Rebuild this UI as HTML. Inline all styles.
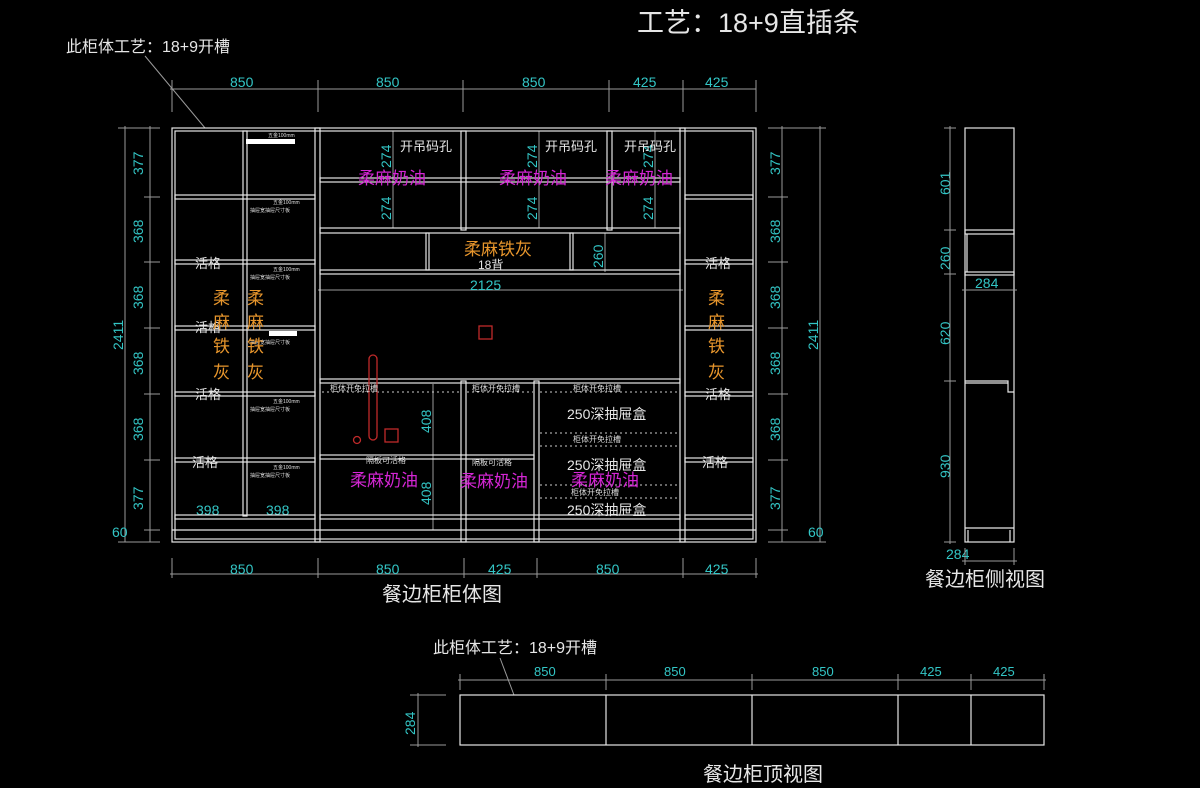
<!DOCTYPE html>
<html><head><meta charset="utf-8"><style>
body{margin:0;background:#000}
svg{display:block}
text{font-family:"Liberation Sans","Noto Sans CJK SC",sans-serif}
.w{stroke:#e6e6e6;stroke-width:1.2;fill:none}
.d{stroke:#9a9a9a;stroke-width:1;fill:none}
.c{fill:#33c6c6;font-size:14px}
.m{fill:#d526d5;font-size:17px}
.o{fill:#e8962c;font-size:17px}
.t{fill:#e6e6e6}
.s{fill:#ddd;font-size:5px}
</style></head><body>
<svg width="1200" height="788" viewBox="0 0 1200 788">
<rect width="1200" height="788" fill="#000"/>
<text x="637" y="32" class="t" font-size="27" font-family="Liberation Serif,Noto Serif CJK SC,serif">工艺：18+9直插条</text>
<text x="66" y="52" class="t" font-size="16">此柜体工艺：18+9开槽</text>
<line x1="145" y1="56" x2="205" y2="128" class="d"/>
<text x="382" y="601" class="t" font-size="20">餐边柜柜体图</text>
<text x="925" y="586" class="t" font-size="20">餐边柜侧视图</text>
<text x="703" y="781" class="t" font-size="20">餐边柜顶视图</text>
<text x="433" y="653" class="t" font-size="16">此柜体工艺：18+9开槽</text>
<line x1="500" y1="658" x2="514" y2="695" class="d"/>

<g class="d">
<line x1="170" y1="89" x2="756" y2="89"/>
<line x1="172" y1="80" x2="172" y2="112"/><line x1="318" y1="80" x2="318" y2="112"/><line x1="463" y1="80" x2="463" y2="112"/><line x1="609" y1="80" x2="609" y2="112"/><line x1="683" y1="80" x2="683" y2="112"/><line x1="756" y1="80" x2="756" y2="112"/>
<line x1="170" y1="574" x2="758" y2="574"/>
<line x1="172" y1="558" x2="172" y2="578"/><line x1="318" y1="558" x2="318" y2="578"/><line x1="464" y1="558" x2="464" y2="578"/><line x1="537" y1="558" x2="537" y2="578"/><line x1="683" y1="558" x2="683" y2="578"/><line x1="756" y1="558" x2="756" y2="578"/>
<line x1="125" y1="126" x2="125" y2="542"/><line x1="150" y1="126" x2="150" y2="542"/>
<line x1="118" y1="128" x2="160" y2="128"/><line x1="118" y1="542" x2="160" y2="542"/>
<line x1="144" y1="197" x2="160" y2="197"/><line x1="144" y1="262" x2="160" y2="262"/><line x1="144" y1="328" x2="160" y2="328"/><line x1="144" y1="394" x2="160" y2="394"/><line x1="144" y1="460" x2="160" y2="460"/><line x1="144" y1="530" x2="160" y2="530"/>
<line x1="782" y1="126" x2="782" y2="542"/><line x1="820" y1="126" x2="820" y2="542"/>
<line x1="768" y1="128" x2="826" y2="128"/><line x1="768" y1="542" x2="826" y2="542"/>
<line x1="768" y1="197" x2="788" y2="197"/><line x1="768" y1="262" x2="788" y2="262"/><line x1="768" y1="328" x2="788" y2="328"/><line x1="768" y1="394" x2="788" y2="394"/><line x1="768" y1="460" x2="788" y2="460"/><line x1="768" y1="530" x2="788" y2="530"/>
<line x1="318" y1="290" x2="683" y2="290"/>
<line x1="393" y1="131" x2="393" y2="228"/><line x1="539" y1="131" x2="539" y2="228"/><line x1="655" y1="131" x2="655" y2="228"/>
<line x1="605" y1="233" x2="605" y2="272"/>
<line x1="433" y1="384" x2="433" y2="530"/>
</g>
<g class="c">
<text x="230" y="87">850</text><text x="376" y="87">850</text><text x="522" y="87">850</text><text x="633" y="87">425</text><text x="705" y="87">425</text>
<text x="230" y="574">850</text><text x="376" y="574">850</text><text x="488" y="574">425</text><text x="596" y="574">850</text><text x="705" y="574">425</text>
<text x="470" y="290">2125</text>
<text x="196" y="515">398</text><text x="266" y="515">398</text>
<text x="112" y="537">60</text><text x="808" y="537">60</text>
<text x="975" y="288">284</text><text x="946" y="559">284</text>
<text x="534" y="676" font-size="13">850</text><text x="664" y="676" font-size="13">850</text><text x="812" y="676" font-size="13">850</text><text x="920" y="676" font-size="13">425</text><text x="993" y="676" font-size="13">425</text>
<g font-size="14">
<text transform="translate(143,175) rotate(-90)">377</text>
<text transform="translate(143,243) rotate(-90)">368</text>
<text transform="translate(143,309) rotate(-90)">368</text>
<text transform="translate(143,375) rotate(-90)">368</text>
<text transform="translate(143,441) rotate(-90)">368</text>
<text transform="translate(143,510) rotate(-90)">377</text>
<text transform="translate(123,350) rotate(-90)">2411</text>
<text transform="translate(780,175) rotate(-90)">377</text>
<text transform="translate(780,243) rotate(-90)">368</text>
<text transform="translate(780,309) rotate(-90)">368</text>
<text transform="translate(780,375) rotate(-90)">368</text>
<text transform="translate(780,441) rotate(-90)">368</text>
<text transform="translate(780,510) rotate(-90)">377</text>
<text transform="translate(818,350) rotate(-90)">2411</text>
<text transform="translate(391,168) rotate(-90)">274</text>
<text transform="translate(391,220) rotate(-90)">274</text>
<text transform="translate(537,168) rotate(-90)">274</text>
<text transform="translate(537,220) rotate(-90)">274</text>
<text transform="translate(653,168) rotate(-90)">274</text>
<text transform="translate(653,220) rotate(-90)">274</text>
<text transform="translate(603,268) rotate(-90)">260</text>
<text transform="translate(431,433) rotate(-90)">408</text>
<text transform="translate(431,505) rotate(-90)">408</text>
<text transform="translate(950,195) rotate(-90)">601</text>
<text transform="translate(950,270) rotate(-90)">260</text>
<text transform="translate(950,345) rotate(-90)">620</text>
<text transform="translate(950,478) rotate(-90)">930</text>
<text transform="translate(415,735) rotate(-90)">284</text>
</g></g>

<g class="w">
<rect x="172" y="128" width="584" height="414"/>
<rect x="175" y="131" width="578" height="408"/>
<line x1="172" y1="530" x2="756" y2="530"/>
<rect x="315" y="128" width="5" height="414"/>
<rect x="680" y="128" width="5" height="414"/>
<rect x="243" y="131" width="4" height="385"/>
<rect x="461" y="131" width="5" height="99"/>
<rect x="607" y="131" width="5" height="99"/>
<rect x="461" y="381" width="5" height="161"/>
<rect x="534" y="381" width="5" height="161"/>
<rect x="175" y="195" width="140" height="4"/><rect x="175" y="260" width="140" height="4"/><rect x="175" y="326" width="140" height="4"/><rect x="175" y="392" width="140" height="4"/><rect x="175" y="458" width="140" height="4"/><rect x="175" y="515" width="140" height="4"/>
<rect x="685" y="195" width="68" height="4"/><rect x="685" y="260" width="68" height="4"/><rect x="685" y="326" width="68" height="4"/><rect x="685" y="392" width="68" height="4"/><rect x="685" y="458" width="68" height="4"/><rect x="685" y="515" width="68" height="4"/>
<rect x="320" y="178" width="360" height="4"/>
<rect x="320" y="228" width="360" height="5"/>
<rect x="320" y="270" width="360" height="4"/>
<rect x="426" y="233" width="3" height="37"/>
<rect x="570" y="233" width="3" height="37"/>
<rect x="320" y="379" width="360" height="4"/>
<rect x="320" y="455" width="214" height="4"/>
<rect x="320" y="515" width="360" height="4"/>
</g>
<rect x="246" y="139" width="49" height="5" fill="#fff"/>
<rect x="269" y="331" width="28" height="5" fill="#fff"/>
<g stroke="#ccc" stroke-dasharray="2,3" fill="none">
<line x1="322" y1="392" x2="460" y2="392"/><line x1="467" y1="392" x2="533" y2="392"/><line x1="540" y1="392" x2="680" y2="392"/>
<line x1="540" y1="433" x2="680" y2="433"/><line x1="540" y1="446" x2="680" y2="446"/>
<line x1="540" y1="485" x2="680" y2="485"/><line x1="540" y1="498" x2="680" y2="498"/>
</g>
<g stroke="#c02a2a" fill="none" stroke-width="1.3">
<rect x="369" y="355" width="8" height="85" rx="4"/>
<circle cx="357" cy="440" r="3.5"/>
<rect x="385" y="429" width="13" height="13"/>
<rect x="479" y="326" width="13" height="13"/>
</g>
<g class="t" font-size="13">
<text x="400" y="151">开吊码孔</text><text x="545" y="151">开吊码孔</text><text x="624" y="151">开吊码孔</text>
<text x="478" y="269" font-size="12">18背</text>
<text x="195" y="268">活格</text><text x="195" y="332">活格</text><text x="195" y="399">活格</text><text x="192" y="467">活格</text>
<text x="705" y="268">活格</text><text x="705" y="399">活格</text><text x="702" y="467">活格</text>
<text x="567" y="419" font-size="14">250深抽屉盒</text><text x="567" y="470" font-size="14">250深抽屉盒</text><text x="567" y="515" font-size="14">250深抽屉盒</text>
</g>
<g class="s">
<text x="268" y="137">五金100mm</text>
<text x="273" y="204">五金100mm</text><text x="250" y="212">抽屉宽抽屉尺寸板</text>
<text x="273" y="271">五金100mm</text><text x="250" y="279">抽屉宽抽屉尺寸板</text>
<text x="250" y="344">抽屉宽抽屉尺寸板</text>
<text x="273" y="403">五金100mm</text><text x="250" y="411">抽屉宽抽屉尺寸板</text>
<text x="273" y="469">五金100mm</text><text x="250" y="477">抽屉宽抽屉尺寸板</text>
<text x="330" y="391" font-size="8">柜体开免拉槽</text><text x="472" y="391" font-size="8">柜体开免拉槽</text><text x="573" y="391" font-size="8">柜体开免拉槽</text>
<text x="573" y="442" font-size="8">柜体开免拉槽</text><text x="571" y="495" font-size="8">柜体开免拉槽</text>
<text x="366" y="463" font-size="8">隔板可活格</text><text x="472" y="465" font-size="8">隔板可活格</text>
</g>
<g class="m">
<text x="358" y="184">柔麻奶油</text><text x="499" y="184">柔麻奶油</text><text x="605" y="184">柔麻奶油</text>
<text x="350" y="486">柔麻奶油</text><text x="460" y="487">柔麻奶油</text><text x="571" y="486">柔麻奶油</text>
</g>
<g class="o">
<text x="464" y="255">柔麻铁灰</text>
<text x="213" y="304">柔</text><text x="213" y="328">麻</text><text x="213" y="352">铁</text><text x="213" y="378">灰</text>
<text x="247" y="304">柔</text><text x="247" y="328">麻</text><text x="247" y="352">铁</text><text x="247" y="378">灰</text>
<text x="708" y="304">柔</text><text x="708" y="328">麻</text><text x="708" y="352">铁</text><text x="708" y="378">灰</text>
</g>

<g class="w">
<rect x="965" y="128" width="49" height="414"/>
<rect x="965" y="230" width="49" height="4"/>
<rect x="965" y="272" width="49" height="3"/>
<line x1="967" y1="234" x2="967" y2="272"/>
<path d="M965 381 H1008 V392 H1014"/><line x1="965" y1="383" x2="1008" y2="383"/>
<line x1="965" y1="528" x2="1014" y2="528"/>
<line x1="968" y1="530" x2="968" y2="542"/><line x1="1010" y1="530" x2="1010" y2="542"/>
</g>
<g class="d">
<line x1="950" y1="126" x2="950" y2="544"/>
<line x1="944" y1="128" x2="956" y2="128"/><line x1="944" y1="230" x2="956" y2="230"/><line x1="944" y1="274" x2="956" y2="274"/><line x1="944" y1="381" x2="956" y2="381"/><line x1="944" y1="542" x2="956" y2="542"/>
<line x1="962" y1="290" x2="1017" y2="290"/><line x1="962" y1="561" x2="1017" y2="561"/>
<line x1="965" y1="548" x2="965" y2="565"/><line x1="1014" y1="548" x2="1014" y2="565"/>
</g>

<g class="w">
<rect x="460" y="695" width="584" height="50"/>
<line x1="606" y1="695" x2="606" y2="745"/><line x1="752" y1="695" x2="752" y2="745"/><line x1="898" y1="695" x2="898" y2="745"/><line x1="971" y1="695" x2="971" y2="745"/>
</g>
<g class="d">
<line x1="458" y1="680" x2="1046" y2="680"/>
<line x1="460" y1="674" x2="460" y2="690"/><line x1="606" y1="674" x2="606" y2="690"/><line x1="752" y1="674" x2="752" y2="690"/><line x1="898" y1="674" x2="898" y2="690"/><line x1="971" y1="674" x2="971" y2="690"/><line x1="1044" y1="674" x2="1044" y2="690"/>
<line x1="418" y1="693" x2="418" y2="747"/><line x1="410" y1="695" x2="446" y2="695"/><line x1="410" y1="745" x2="446" y2="745"/>
</g>
</svg>
</body></html>
